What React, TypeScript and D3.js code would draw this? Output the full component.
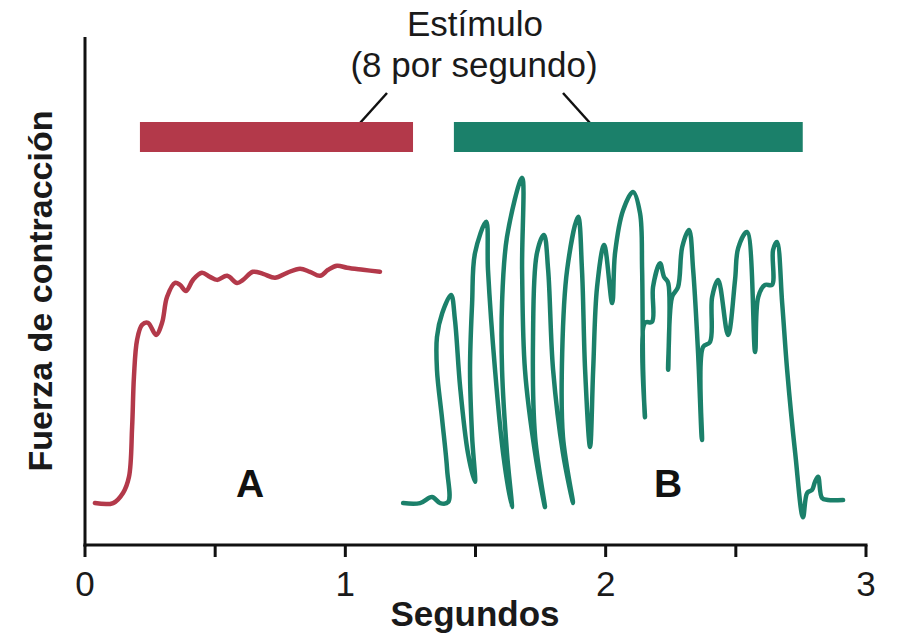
import React from "react";
import * as d3 from "d3";

// Twitch A (tetanus-like fused contraction): [seconds, force]
const seriesA: [number, number][] = [
  [0.038, 8.3], [0.108, 8.3], [0.146, 10.3], [0.169, 13.5], [0.181, 23.4],
  [0.188, 33.3], [0.2, 40.6], [0.219, 43.6], [0.242, 44.0], [0.273, 41.6],
  [0.296, 44.0], [0.315, 49.1], [0.346, 51.9], [0.365, 51.5], [0.388, 50.3],
  [0.415, 52.5], [0.449, 53.9], [0.48, 53.1], [0.507, 52.5], [0.546, 53.3],
  [0.584, 51.9], [0.607, 52.5], [0.645, 54.1], [0.684, 53.7], [0.73, 52.9],
  [0.776, 53.9], [0.826, 54.7], [0.864, 54.1], [0.903, 53.3], [0.934, 54.5],
  [0.968, 55.3], [1.007, 54.9], [1.068, 54.5], [1.133, 54.1],
];

// Trace B (unfused twitches)
const seriesB: [number, number][] = [
  [1.222, 8.3], [1.287, 8.3], [1.333, 9.5], [1.364, 8.3], [1.395, 8.5],
  [1.391, 14.9], [1.372, 24.8], [1.352, 34.7], [1.352, 41.2], [1.372, 45.9],
  [1.406, 49.5], [1.421, 44.6], [1.441, 31.3], [1.471, 18.2], [1.498, 12.5],
  [1.487, 21.4], [1.479, 34.7], [1.487, 47.9], [1.498, 57.8], [1.541, 64.0],
  [1.548, 54.5], [1.575, 34.7], [1.606, 18.2], [1.64, 7.5],
  [1.621, 18.2], [1.602, 34.7], [1.602, 47.9], [1.621, 61.0], [1.679, 72.7],
  [1.679, 54.5], [1.69, 34.7], [1.729, 18.2], [1.767, 7.5],
  [1.729, 21.4], [1.721, 41.2], [1.736, 57.8], [1.763, 61.4],
  [1.779, 54.5], [1.798, 34.7], [1.836, 18.2], [1.875, 8.3],
  [1.836, 21.4], [1.833, 38.0], [1.852, 54.5], [1.894, 65.0],
  [1.909, 54.5], [1.921, 34.7], [1.94, 19.4],
  [1.952, 34.7], [1.967, 51.1], [1.994, 59.4], [2.025, 47.9],
  [2.036, 57.8], [2.067, 66.3], [2.105, 69.9], [2.132, 65.7],
  [2.14, 54.5], [2.144, 34.7], [2.151, 25.3],
  [2.151, 44.0], [2.178, 44.2], [2.182, 51.1], [2.209, 55.8], [2.224, 53.1],
  [2.24, 51.9], [2.24, 34.7], [2.255, 49.1], [2.278, 51.1], [2.294, 59.0],
  [2.32, 62.4], [2.336, 54.5], [2.355, 38.0], [2.37, 20.8],
  [2.374, 39.2], [2.401, 40.2], [2.409, 49.1], [2.432, 52.5], [2.47, 41.6],
  [2.497, 52.5], [2.509, 58.8], [2.543, 62.0], [2.574, 38.2],
  [2.586, 49.1], [2.612, 51.5], [2.639, 51.5], [2.643, 58.4], [2.658, 60.0],
  [2.678, 47.9], [2.697, 34.7], [2.728, 18.2], [2.758, 5.5],
  [2.774, 10.3], [2.793, 10.9], [2.804, 12.5], [2.816, 13.5], [2.831, 9.3],
  [2.854, 8.9], [2.912, 8.9],
];

// Stimulus intervals (seconds)
const stimulusA: [number, number] = [0.211, 1.26];
const stimulusB: [number, number] = [1.417, 2.757];

const xTicks = [0, 0.5, 1, 1.5, 2, 2.5, 3];
const xTickLabels = ["0", "", "1", "", "2", "", "3"];

const titleLines = ["Estímulo", "(8 por segundo)"];
const xLabel = "Segundos";
const yLabel = "Fuerza de contracción";
const labelA = "A";
const labelB = "B";

const RED = "#b3394a";
const GREEN = "#1b806a";
const FONT = "'Liberation Sans', Arial, Helvetica, sans-serif";

export default function App() {
  const W = 897;
  const H = 640;
  const x = d3.scaleLinear().domain([0, 3]).range([85, 866]);
  const y = d3.scaleLinear().domain([0, 100]).range([545, 40]);

  const line = d3
    .line<[number, number]>()
    .x((d) => x(d[0]))
    .y((d) => y(d[1]))
    .curve(d3.curveCatmullRom.alpha(0.5));

  const barTop = 122;
  const barH = 30;
  const axisY = y(0);

  return (
    <svg
      width={W}
      height={H}
      style={{ position: "absolute", left: 0, top: 0, background: "#fff" }}
      fontFamily={FONT}
    >
      <rect x={0} y={0} width={W} height={H} fill="#fff" />

      {/* Title */}
      <text x={475} y={36} textAnchor="middle" fontSize={35} fill="#1a1a1a">
        {titleLines[0]}
      </text>
      <text x={474} y={77} textAnchor="middle" fontSize={35} fill="#1a1a1a">
        {titleLines[1]}
      </text>

      {/* Leader lines */}
      <line x1={387} y1={93} x2={360} y2={barTop + 1} stroke="#111" strokeWidth={2.5} />
      <line x1={563} y1={93} x2={590} y2={barTop + 1} stroke="#111" strokeWidth={2.5} />

      {/* Stimulus bars */}
      <rect
        x={x(stimulusA[0])}
        y={barTop}
        width={x(stimulusA[1]) - x(stimulusA[0])}
        height={barH}
        fill={RED}
      />
      <rect
        x={x(stimulusB[0])}
        y={barTop}
        width={x(stimulusB[1]) - x(stimulusB[0])}
        height={barH}
        fill={GREEN}
      />

      {/* Traces */}
      <path d={line(seriesA) || ""} fill="none" stroke={RED} strokeWidth={4.5} strokeLinejoin="round" strokeLinecap="round" />
      <path d={line(seriesB) || ""} fill="none" stroke={GREEN} strokeWidth={4.5} strokeLinejoin="round" strokeLinecap="round" />

      {/* Axes */}
      <line x1={x(0)} y1={37} x2={x(0)} y2={axisY + 1.5} stroke="#111" strokeWidth={3} />
      <line x1={x(0) - 1.5} y1={axisY} x2={x(3) + 1.5} y2={axisY} stroke="#111" strokeWidth={3} />
      {xTicks.map((t, i) => (
        <g key={t}>
          <line x1={x(t)} y1={axisY} x2={x(t)} y2={axisY + 12} stroke="#111" strokeWidth={3} />
          {xTickLabels[i] && (
            <text x={x(t)} y={596} textAnchor="middle" fontSize={35} fill="#1a1a1a">
              {xTickLabels[i]}
            </text>
          )}
        </g>
      ))}

      <text x={475} y={626} textAnchor="middle" fontSize={35} fontWeight="bold" fill="#1a1a1a">
        {xLabel}
      </text>
      <text
        transform={`translate(52, 291) rotate(-90)`}
        textAnchor="middle"
        fontSize={34}
        fontWeight="bold"
        fill="#1a1a1a"
      >
        {yLabel}
      </text>

      <text x={250} y={497} textAnchor="middle" fontSize={39} fontWeight="bold" fill="#111">
        {labelA}
      </text>
      <text x={668} y={497} textAnchor="middle" fontSize={39} fontWeight="bold" fill="#111">
        {labelB}
      </text>
    </svg>
  );
}
